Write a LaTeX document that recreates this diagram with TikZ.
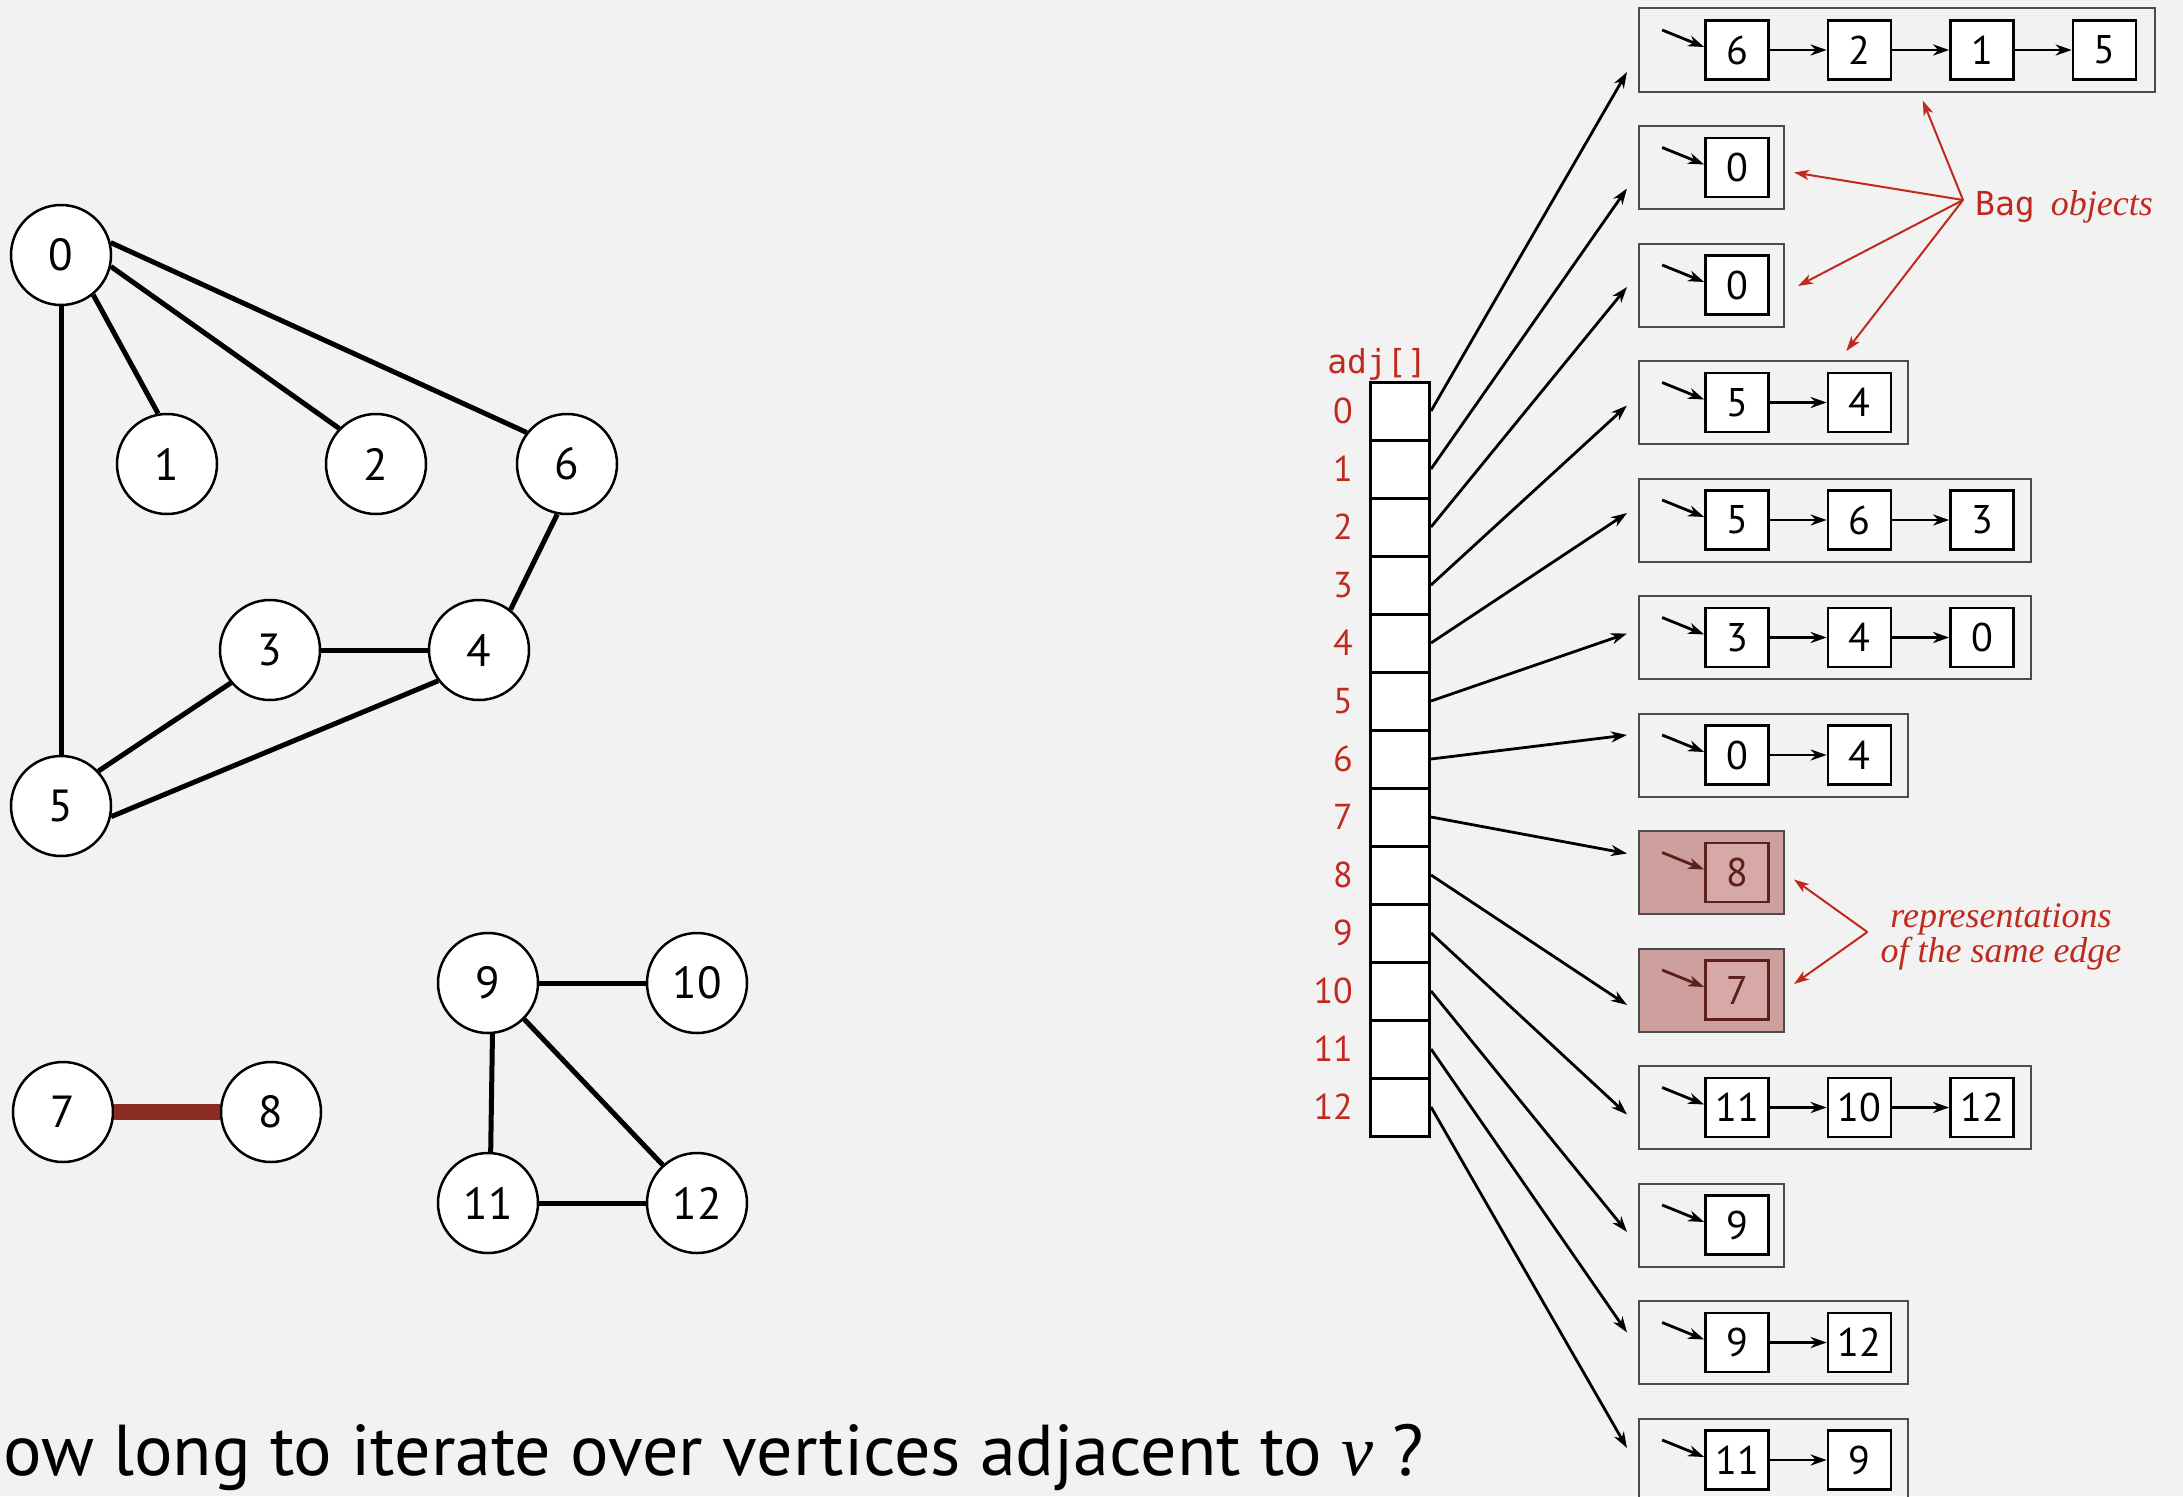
\documentclass[tikz,border=0pt]{standalone}
\usepackage{fontspec}
\setmonofont{DejaVu Sans Mono}
\newfontfamily\graphfont{PT Sans}
\newfontfamily\notefont{Liberation Serif}
\usetikzlibrary{arrows.meta,positioning}
\definecolor{bg}{RGB}{242,242,242}
\definecolor{bookred}{RGB}{192,42,30}
\definecolor{edgered}{RGB}{140,45,35}
\definecolor{hotfill}{RGB}{205,160,158}
\definecolor{hotitem}{RGB}{214,168,166}
\definecolor{hotline}{RGB}{92,30,30}
\tikzset{
	vertex/.style={circle,draw,line width=2.5pt,fill=white,minimum size=100pt,inner sep=0pt,font=\graphfont\fontsize{45}{45}\selectfont},
	edge/.style={line width=5pt},
	cell/.style={draw,line width=3pt,fill=white,minimum width=59pt,minimum height=58pt,inner sep=0pt},
	idx/.style={text=bookred,inner sep=0pt,label distance=16pt,font=\graphfont\fontsize{36}{36}\selectfont},
	bag/.style={draw=black!70,line width=2pt,minimum height=83pt,inner sep=0pt},
	plain-bag/.style={},
	hot-bag/.style={fill=hotfill},
	item/.style={draw,line width=2.7pt,fill=white,minimum width=63pt,minimum height=59pt,inner sep=0pt,font=\graphfont\fontsize{40}{40}\selectfont},
	plain-item/.style={},
	hot-item/.style={fill=hotitem,draw=hotline,text=hotline},
	ptr/.style={line width=2.8pt,-{Stealth[length=16pt,width=11pt,inset=5pt]}},
	plain-ptr/.style={},
	hot-ptr/.style={draw=hotline},
	note/.style={text=bookred,inner sep=0pt,font=\notefont\itshape\fontsize{36}{35}\selectfont},
	notearrow/.style={bookred,line width=2pt,-{Stealth[length=15pt,width=10pt,inset=4pt]}}
}
\begin{document}
\begin{tikzpicture}[x=1pt,y=-1pt]
	\useasboundingbox (0,0) rectangle (2183,1496);
	\fill[bg] (0,0) rectangle (2183,1496);
	% the graph
	\foreach \v/\x/\y in {0/61/255,1/167/464,2/376/464,6/567/464,3/270/650,4/479/650,5/61/806,7/63/1112,8/271/1112,9/488/983,10/697/983,11/488/1203,12/697/1203}
		\node[vertex] (v\v) at (\x,\y) {\v};
	\foreach \a/\oa/\b/\ob in {0/-51/1/100,0/-13/2/136,0/14/6/142,0/-90/5/90,6/-101/4/52,3/0/4/180,3/-140/5/43,4/-143/5/-12,9/0/10/180,9/-85/11/87,9/-45/12/132,11/0/12/180}
		\draw[edge] (v\a.\oa) -- (v\b.\ob);
	\draw[edge,line width=16pt,edgered] (v7) -- (v8);
	% adj[] array
	\node[text=bookred,anchor=base,font=\ttfamily\fontsize{33}{33}\selectfont] (adj) at (1377,373) {adj[]};
	\foreach \i in {0,...,12}
		\node[cell,label={[idx]left:\i}] (a\i) at (1400,411+58*\i) {};
	% Bag objects
	\foreach \i/\n/\kind/\items in {0/4/plain/{6,2,1,5},1/1/plain/{0},2/1/plain/{0},3/2/plain/{5,4},4/3/plain/{5,6,3},5/3/plain/{3,4,0},6/2/plain/{0,4},7/1/hot/{8},8/1/hot/{7},9/3/plain/{11,10,12},10/1/plain/{9},11/2/plain/{9,12},12/2/plain/{11,9}}{
		\pgfmathsetmacro\bw{145+123.5*(\n-1)}
		\node[bag,\kind-bag,minimum width=\bw pt,anchor=west] (bag\i) at (1638,50+117.5*\i) {};
		\foreach \w [count=\k from 0] in \items {
			\node[item,\kind-item] (b\i-\k) at (1737+122.5*\k,50+117.5*\i) {\w};
			\ifnum\k>0 \pgfmathtruncatemacro\pk{\k-1}\draw[ptr] (b\i-\pk) -- (b\i-\k);\fi
		}
		\coordinate (h\i) at ([xshift=-42pt,yshift=20pt]b\i-0.west);
		\draw[ptr,\kind-ptr] (h\i) -- ([yshift=3pt]b\i-0.west);
	}
	\foreach \i/\dy in {0/-22,1/-21,2/-2,3/-3,4/7,5/4,6/20,7/19,8/-15,9/-7,10/-7,11/10,12/12}
		\draw[ptr] (a\i.east) -- ([xshift=-11pt,yshift=\dy pt]bag\i.west);
	% notes
	\node[note,anchor=base west] (bagnote) at (1975,215) {\upshape\ttfamily\fontsize{33}{33}\selectfont Bag\hspace{16pt}\notefont\itshape\fontsize{36}{36}\selectfont objects};
	\coordinate (bagtip) at ([xshift=-12pt,yshift=15pt]bagnote.base west);
	\draw[notearrow] (bagtip) -- ([xshift=26pt,yshift=-8pt]bag0.south);
	\draw[notearrow] (bagtip) -- ([xshift=9pt,yshift=-5pt]bag1.east);
	\draw[notearrow] (bagtip) -- ([xshift=13pt,yshift=-1pt]bag2.east);
	\draw[notearrow] (bagtip) -- ([xshift=73pt,yshift=9pt]bag3.north);
	\node[note,align=center] (edgenote) at (2001,937) {representations\\of the same edge};
	\coordinate (edgetip) at ([xshift=-13pt,yshift=5pt]edgenote.west);
	\draw[notearrow] (edgetip) -- ([xshift=9pt,yshift=-7pt]bag7.east);
	\draw[notearrow] (edgetip) -- ([xshift=9pt,yshift=6pt]bag8.east);
	% question
	\node[anchor=base west,inner sep=0pt,font=\graphfont\fontsize{72}{72}\selectfont] (question) at (3,1475) {ow long to iterate over vertices adjacent to {\notefont\itshape v} ?};
\end{tikzpicture}
\end{document}
